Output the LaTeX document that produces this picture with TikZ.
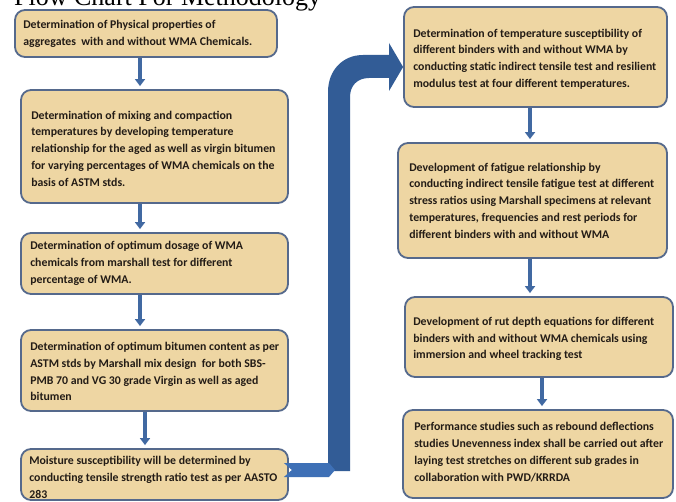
\documentclass[tikz,border=0pt]{standalone}
\usepackage{fontspec}
\setmainfont{Carlito}
\newfontfamily\titlefont{Liberation Serif}
\usetikzlibrary{arrows.meta}
\definecolor{boxfill}{RGB}{238,214,163}
\definecolor{boxline}{RGB}{85,105,140}
\definecolor{arrblue}{RGB}{65,105,162}
\definecolor{bigblue}{RGB}{50,92,150}
\definecolor{stubblue}{RGB}{62,112,182}
\definecolor{txt}{RGB}{35,28,22}
\tikzset{
  box/.style={draw=boxline, line width=1.8pt, fill=boxfill, rounded corners=10pt},
  boxtext/.style={anchor=west, align=left, inner sep=0pt, text=txt,
    font=\bfseries\fontsize{11.8}{16.8}\selectfont},
  flowarrow/.style={draw=arrblue, line width=3.6pt,
    -{Triangle[width=10pt,length=7pt]}, shorten >=3pt}
}
\begin{document}
\begin{tikzpicture}[x=1pt,y=-1pt]
\useasboundingbox (0,0) rectangle (676,502);
\fill[white] (0,0) rectangle (676,502);

\node[anchor=base west, font=\titlefont\fontsize{26}{26}\selectfont, inner sep=0pt] (title) at (14,6) {Flow Chart For Methodology};

% left column
\node[box, minimum width=262pt, minimum height=47pt] (b1) at (146,33.5) {};
\node[boxtext] (t1) at ([xshift=9pt]b1.west)
 {Determination of Physical properties of\\aggregates\ \ with and without WMA Chemicals.};
\node[box, minimum width=267pt, minimum height=113pt] (b2) at (154.5,146.5) {};
\node[boxtext] (t2) at ([xshift=11pt,yshift=-2pt]b2.west)
 {Determination of mixing and compaction\\temperatures by developing temperature\\relationship for the aged as well as virgin bitumen\\for varying percentages of WMA chemicals on the\\basis of ASTM stds.};
\node[box, minimum width=267pt, minimum height=61pt] (b3) at (154.5,263.5) {};
\node[boxtext] (t3) at ([xshift=10pt]b3.west)
 {Determination of optimum dosage of WMA\\chemicals from marshall test for different\\percentage of WMA.};
\node[box, minimum width=267pt, minimum height=81pt] (b4) at (154.5,370.5) {};
\node[boxtext] (t4) at ([xshift=10pt,yshift=-1pt]b4.west)
 {Determination of optimum bitumen content as per\\ASTM stds by Marshall mix design\ \ for both SBS-\\PMB 70 and VG 30 grade Virgin as well as aged\\bitumen};
\node[box, minimum width=267pt, minimum height=51pt] (b5) at (154.5,474.5) {};
\node[boxtext] (t5) at ([xshift=9pt,yshift=-3pt]b5.west)
 {Moisture susceptibility will be determined by\\conducting tensile strength ratio test as per AASTO\\283};

% right column
\node[box, minimum width=263pt, minimum height=100pt] (r1) at (535.5,57) {};
\node[boxtext] (s1) at ([xshift=10pt,yshift=-2pt]r1.west)
 {Determination of temperature susceptibility of\\different binders with and without WMA by\\conducting static indirect tensile test and resilient\\modulus test at four different temperatures.};
\node[box, minimum width=269pt, minimum height=115pt] (r2) at (532.5,200.5) {};
\node[boxtext] (s2) at ([xshift=12pt]r2.west)
 {Development of fatigue relationship by\\conducting indirect tensile fatigue test at different\\stress ratios using Marshall specimens at relevant\\temperatures, frequencies and rest periods for\\different binders with and without WMA};
\node[box, minimum width=268pt, minimum height=80pt] (r3) at (539,337) {};
\node[boxtext] (s3) at ([xshift=9pt,yshift=-2pt]r3.west)
 {Development of rut depth equations for different\\binders with and without WMA chemicals using\\immersion and wheel tracking test};
\node[box, minimum width=270pt, minimum height=88pt] (r4) at (538,454) {};
\node[boxtext] (s4) at ([xshift=12pt,yshift=2pt]r4.west)
 {Performance studies such as rebound deflections\\studies Unevenness index shall be carried out after\\laying test stretches on different sub grades in\\collaboration with PWD/KRRDA};

% small arrows
\draw[flowarrow] (b1.south -| 140,0) -- (b2.north -| 140,0);
\draw[flowarrow] (b2.south -| 140,0) -- (b3.north -| 140,0);
\draw[flowarrow] (b3.south -| 140,0) -- (b4.north -| 140,0);
\draw[flowarrow] (b4.south -| 145,0) -- (b5.north -| 145,0);
\draw[flowarrow] (r1.south -| 530,0) -- (r2.north -| 530,0);
\draw[flowarrow] (r2.south -| 530,0) -- (r3.north -| 530,0);
\draw[flowarrow] (r3.south -| 542,0) -- (r4.north -| 542,0);

% big bent arrow from b5 to r1
\coordinate (tail) at (b5.east |- 0,470);
\coordinate (tip) at (r1.west |- 0,67);
\fill[bigblue] (328,471) -- (328,92) .. controls (328,70) and (343,55) .. (363,55)
  -- (389,55) -- (389,43) -- (tip) -- (389,91) -- (389,78) -- (369,78)
  .. controls (357,78) and (350,86) .. (350,97) -- (350,471) -- cycle;
\fill[stubblue] ([xshift=-5pt]tail |- 0,463) -- (329,463) -- (335,470) -- (329,477)
  -- ([xshift=-5pt]tail |- 0,477) -- ([xshift=3pt]tail) -- cycle;
\end{tikzpicture}
\end{document}
